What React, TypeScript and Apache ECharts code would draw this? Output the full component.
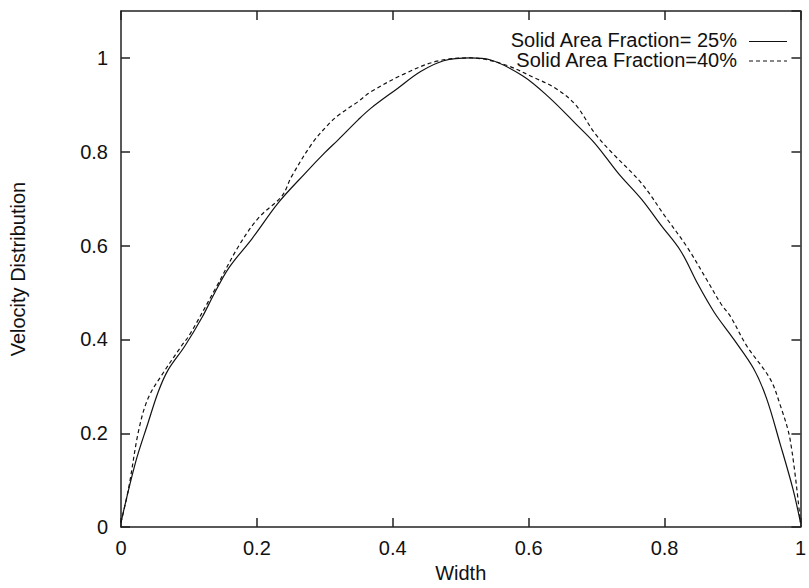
import React, { useEffect, useRef } from "react";
import * as echarts from "echarts";

const xTicks = [0, 0.2, 0.4, 0.6, 0.8, 1];
const yTicks = [0, 0.2, 0.4, 0.6, 0.8, 1];

const seriesNames = ["Solid Area Fraction= 25%", "Solid Area Fraction=40%"];

const solid25: [number, number][] = [
  [0, 0.01], [0.021, 0.136], [0.04, 0.223], [0.055, 0.289], [0.069, 0.334],
  [0.094, 0.386], [0.12, 0.449], [0.137, 0.497], [0.159, 0.553], [0.193, 0.615],
  [0.232, 0.692], [0.271, 0.754], [0.3, 0.798], [0.32, 0.826], [0.349, 0.868],
  [0.368, 0.893], [0.407, 0.935], [0.441, 0.971], [0.475, 0.994], [0.514, 1.0],
  [0.543, 0.996], [0.591, 0.962], [0.63, 0.916], [0.669, 0.86], [0.698, 0.817],
  [0.732, 0.754], [0.766, 0.699], [0.795, 0.643], [0.824, 0.588], [0.849, 0.518],
  [0.873, 0.458], [0.902, 0.4], [0.931, 0.338], [0.95, 0.275], [0.97, 0.178],
  [0.989, 0.081], [1.0, 0.01],
];

const solid40: [number, number][] = [
  [0, 0.01], [0.011, 0.081], [0.026, 0.206], [0.04, 0.275], [0.06, 0.324],
  [0.089, 0.386], [0.101, 0.41], [0.14, 0.511], [0.174, 0.601], [0.203, 0.66],
  [0.237, 0.706], [0.251, 0.747], [0.281, 0.817], [0.305, 0.858], [0.32, 0.878],
  [0.349, 0.907], [0.368, 0.928], [0.417, 0.966], [0.465, 0.993], [0.514, 1.0],
  [0.562, 0.987], [0.611, 0.956], [0.64, 0.935], [0.669, 0.9], [0.698, 0.838],
  [0.722, 0.799], [0.766, 0.733], [0.8, 0.664], [0.834, 0.595], [0.863, 0.525],
  [0.883, 0.476], [0.897, 0.449], [0.921, 0.386], [0.955, 0.317], [0.97, 0.261],
  [0.985, 0.185], [1.0, 0.01],
];

const FONT = "'Liberation Sans', Arial, Helvetica, sans-serif";
const TEXT = "#111";
const AXIS = "#222";

export default function App() {
  const ref = useRef<HTMLDivElement>(null);
  useEffect(() => {
    if (!ref.current) return;
    const chart = echarts.init(ref.current, undefined, { renderer: "svg" });
    const axisLine = { show: true, onZero: false, lineStyle: { color: AXIS, width: 1.5 } };
    const axisTick = { show: true, inside: true, length: 9, lineStyle: { color: AXIS, width: 1.5 } };
    const xBase = { type: "value", min: xTicks[0], max: xTicks[xTicks.length - 1], interval: 0.2, splitLine: { show: false } };
    const yBase = { type: "value", min: 0, max: 1.1, interval: 0.2, splitLine: { show: false } };
    chart.setOption({
      animation: false,
      backgroundColor: "#fff",
      grid: { left: 121, right: 2, top: 11, bottom: 49, containLabel: false },
      xAxis: [
        {
          ...xBase,
          position: "bottom",
          axisLine, axisTick,
          axisLabel: { margin: 11, fontSize: 20, color: TEXT, fontFamily: FONT, formatter: (v: number) => String(v) },
          name: "Width",
          nameLocation: "middle",
          nameGap: 31,
          nameTextStyle: { fontSize: 20, color: TEXT, fontFamily: FONT },
        },
        { ...xBase, position: "top", axisLine, axisTick, axisLabel: { show: false } },
      ],
      yAxis: [
        {
          ...yBase,
          position: "left",
          axisLine, axisTick,
          axisLabel: { margin: 13, fontSize: 20, color: TEXT, fontFamily: FONT, showMaxLabel: false,
            formatter: (v: number) => (yTicks.some((t) => Math.abs(t - v) < 1e-9) ? String(v) : "") },
          name: "Velocity Distribution",
          nameLocation: "middle",
          nameGap: 93,
          nameTextStyle: { fontSize: 20, color: TEXT, fontFamily: FONT },
        },
        { ...yBase, position: "right", axisLine, axisTick, axisLabel: { show: false } },
      ],
      series: [
        {
          name: seriesNames[0],
          type: "line",
          data: solid25,
          showSymbol: false,
          symbol: "none",
          smooth: 0.35,
          lineStyle: { color: "#111", width: 1.2, type: "solid" },
        },
        {
          name: seriesNames[1],
          type: "line",
          data: solid40,
          showSymbol: false,
          symbol: "none",
          smooth: 0.35,
          lineStyle: { color: "#111", width: 1.2, type: [4, 3] },
        },
      ],
      graphic: [
        { type: "text", x: 737, y: 40, style: { text: seriesNames[0], fontSize: 20, fontFamily: FONT, fill: TEXT, align: "right", verticalAlign: "middle" } },
        { type: "line", shape: { x1: 749, y1: 41.5, x2: 787, y2: 41.5 }, style: { stroke: "#111", lineWidth: 1.2 } },
        { type: "text", x: 737, y: 60, style: { text: seriesNames[1], fontSize: 20, fontFamily: FONT, fill: TEXT, align: "right", verticalAlign: "middle" } },
        { type: "line", shape: { x1: 749, y1: 61, x2: 787, y2: 61 }, style: { stroke: "#111", lineWidth: 1.2, lineDash: [4, 3] } },
      ],
    });
    return () => chart.dispose();
  }, []);
  return <div ref={ref} style={{ position: "fixed", left: 0, top: 0, width: 809, height: 588 }} />;
}
